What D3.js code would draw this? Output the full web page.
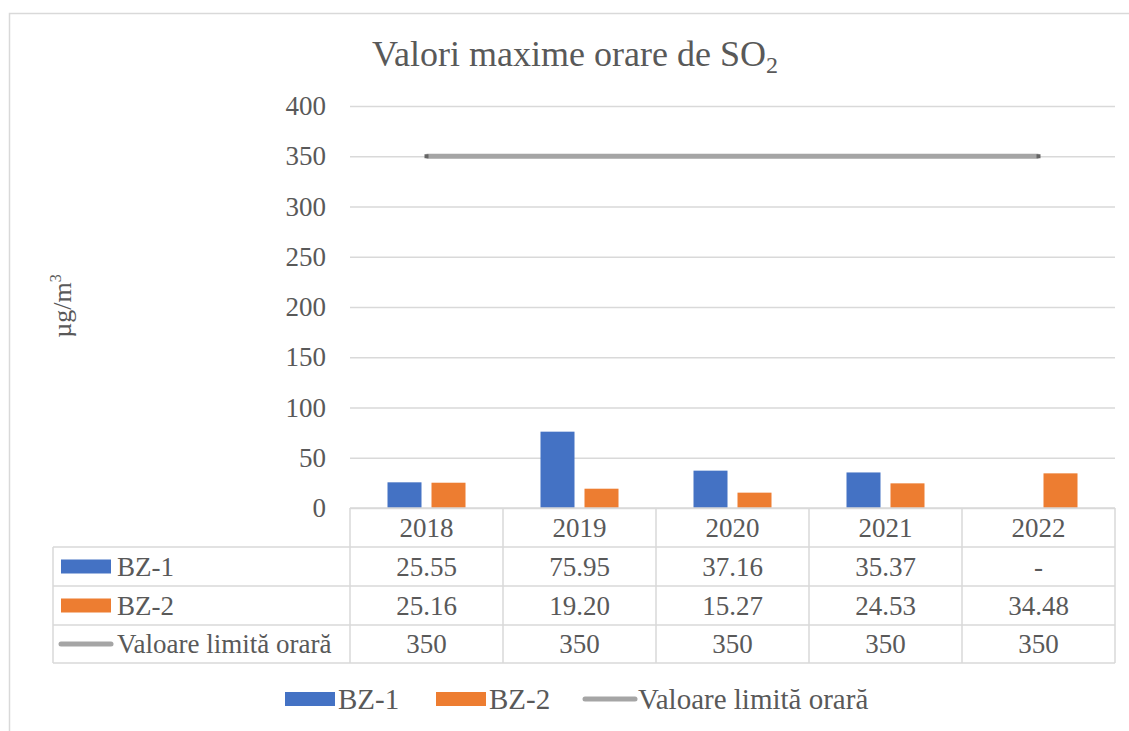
<!DOCTYPE html>
<html>
<head>
<meta charset="utf-8">
<script src="https://cdn.jsdelivr.net/npm/d3@7"></script>
<style>
  body { margin: 0; background: #fff; }
  text { font-family: "Liberation Serif", "Times New Roman", serif; fill: #595959; }
</style>
</head>
<body>
<div id="chart"></div>
<script>
// data
const years = ['2018', '2019', '2020', '2021', '2022'];
const seriesNames = ['BZ-1', 'BZ-2'];
const bz1 = [25.55, 75.95, 37.16, 35.37, null];
const bz2 = [25.16, 19.20, 15.27, 24.53, 34.48];
const limit = [350, 350, 350, 350, 350];
const limitName = 'Valoare limită orară';
const bz1Labels = ['25.55', '75.95', '37.16', '35.37', '-'];
const bz2Labels = ['25.16', '19.20', '15.27', '24.53', '34.48'];
const limitLabels = ['350', '350', '350', '350', '350'];
const yTicks = [0, 50, 100, 150, 200, 250, 300, 350, 400];

const colors = { 'BZ-1': '#4472C4', 'BZ-2': '#ED7D31', limit: '#A5A5A5' };
const gridColor = '#D9D9D9';

const W = 1129, H = 731;
const margin = { top: 106, left: 350, right: 14 };
const plotBottom = 508;
const plotRight = W - margin.right;

const svg = d3.select('#chart').append('svg')
  .attr('width', W)
  .attr('height', H);

// chart border
svg.append('rect')
  .attr('x', 9.5).attr('y', 13.5)
  .attr('width', W + 20).attr('height', H + 20)
  .attr('fill', 'none')
  .attr('stroke', gridColor)
  .attr('stroke-width', 1.5);

// scales
const x = d3.scaleBand()
  .domain(years)
  .range([margin.left, plotRight]);

const groupW = 78;
const xSub = d3.scaleBand()
  .domain(seriesNames)
  .range([0, groupW])
  .paddingInner(0.2273);

const y = d3.scaleLinear()
  .domain([0, 400])
  .range([plotBottom, margin.top]);

// gridlines
svg.append('g')
  .attr('transform', 'translate(' + margin.left + ',0)')
  .call(d3.axisLeft(y).tickValues(yTicks).tickSize(-(plotRight - margin.left)).tickFormat(''))
  .call(g => g.select('.domain').remove())
  .call(g => g.selectAll('line').attr('stroke', gridColor).attr('stroke-width', 1.5));

// y axis labels
svg.append('g')
  .attr('transform', 'translate(' + margin.left + ',0)')
  .call(d3.axisLeft(y).tickValues(yTicks).tickSize(0).tickPadding(24))
  .call(g => g.select('.domain').remove())
  .call(g => g.selectAll('text')
    .attr('font-family', '"Liberation Serif", serif')
    .attr('font-size', 27)
    .attr('fill', '#595959'));

// bars
const seriesData = [
  { name: 'BZ-1', values: bz1 },
  { name: 'BZ-2', values: bz2 }
];
const offset = (x.bandwidth() - groupW) / 2;

seriesData.forEach(s => {
  svg.append('g')
    .selectAll('rect')
    .data(years.map((yr, i) => ({ year: yr, value: s.values[i] })).filter(d => d.value != null))
    .join('rect')
    .attr('x', d => x(d.year) + offset + xSub(s.name))
    .attr('y', d => y(d.value))
    .attr('width', xSub.bandwidth())
    .attr('height', d => y(0) - y(d.value))
    .attr('fill', colors[s.name]);
});

// limit line
const line = d3.line()
  .x((d, i) => x(years[i]) + x.bandwidth() / 2)
  .y(d => y(d));

svg.append('path')
  .datum(limit)
  .attr('fill', 'none')
  .attr('stroke', colors.limit)
  .attr('stroke-width', 5)
  .attr('d', line);

svg.append('g')
  .selectAll('rect')
  .data([0, limit.length - 1])
  .join('rect')
  .attr('x', i => x(years[i]) + x.bandwidth() / 2 - 2)
  .attr('y', i => y(limit[i]) - 2)
  .attr('width', 4).attr('height', 4)
  .attr('fill', '#666');

// title
const title = svg.append('text')
  .attr('x', 575)
  .attr('y', 66)
  .attr('text-anchor', 'middle')
  .attr('font-size', 36);
title.append('tspan').text('Valori maxime orare de SO');
title.append('tspan').attr('font-size', 24).attr('dy', 7).text('2');

// y axis title
const yTitle = svg.append('text')
  .attr('transform', 'translate(71,' + 306 + ') rotate(-90)')
  .attr('text-anchor', 'middle')
  .attr('font-size', 26);
yTitle.append('tspan').text('µg/m');
yTitle.append('tspan').attr('font-size', 16).attr('dy', -10).text('3');

// data table
const tableLeft = 53;
const rowLines = [508, 547, 586, 625, 663];
const tbl = svg.append('g').attr('stroke', gridColor).attr('stroke-width', 1.5);

// horizontal lines
rowLines.forEach((ry, i) => {
  tbl.append('line')
    .attr('x1', i === 0 ? margin.left : tableLeft)
    .attr('x2', plotRight)
    .attr('y1', ry).attr('y2', ry);
});
// vertical lines
tbl.append('line')
  .attr('x1', tableLeft).attr('x2', tableLeft)
  .attr('y1', rowLines[1]).attr('y2', rowLines[4]);
years.concat(['end']).forEach((yr, i) => {
  const vx = i < years.length ? x(yr) : plotRight;
  tbl.append('line')
    .attr('x1', vx).attr('x2', vx)
    .attr('y1', rowLines[0]).attr('y2', rowLines[4]);
});

const rowCenter = i => (rowLines[i] + rowLines[i + 1]) / 2;
const tableRows = [years, bz1Labels, bz2Labels, limitLabels];
tableRows.forEach((row, ri) => {
  svg.append('g')
    .selectAll('text')
    .data(row)
    .join('text')
    .attr('x', (d, i) => x(years[i]) + x.bandwidth() / 2)
    .attr('y', rowCenter(ri))
    .attr('dy', '0.35em')
    .attr('text-anchor', 'middle')
    .attr('font-size', 27)
    .text(d => d);
});

// table row keys
const keyRows = [
  { name: 'BZ-1', type: 'bar', color: colors['BZ-1'] },
  { name: 'BZ-2', type: 'bar', color: colors['BZ-2'] },
  { name: limitName, type: 'line', color: colors.limit }
];
keyRows.forEach((k, i) => {
  const cy = rowCenter(i + 1);
  if (k.type === 'bar') {
    svg.append('rect')
      .attr('x', 61).attr('y', cy - 7)
      .attr('width', 50).attr('height', 14)
      .attr('fill', k.color);
  } else {
    svg.append('line')
      .attr('x1', 61).attr('x2', 111)
      .attr('y1', cy).attr('y2', cy)
      .attr('stroke', k.color)
      .attr('stroke-width', 5)
      .attr('stroke-linecap', 'round');
  }
  svg.append('text')
    .attr('x', 117)
    .attr('y', cy)
    .attr('dy', '0.35em')
    .attr('font-size', 27)
    .text(k.name);
});

// legend
const legendY = 699;
const legendItems = [
  { name: 'BZ-1', type: 'bar', color: colors['BZ-1'], x: 285 },
  { name: 'BZ-2', type: 'bar', color: colors['BZ-2'], x: 436 },
  { name: limitName, type: 'line', color: colors.limit, x: 585 }
];
legendItems.forEach(k => {
  if (k.type === 'bar') {
    svg.append('rect')
      .attr('x', k.x).attr('y', legendY - 7)
      .attr('width', 50).attr('height', 14)
      .attr('fill', k.color);
  } else {
    svg.append('line')
      .attr('x1', k.x).attr('x2', k.x + 50)
      .attr('y1', legendY).attr('y2', legendY)
      .attr('stroke', k.color)
      .attr('stroke-width', 5)
      .attr('stroke-linecap', 'round');
  }
  svg.append('text')
    .attr('x', k.x + 53)
    .attr('y', legendY)
    .attr('dy', '0.35em')
    .attr('font-size', 29)
    .text(k.name);
});
</script>
</body>
</html>
